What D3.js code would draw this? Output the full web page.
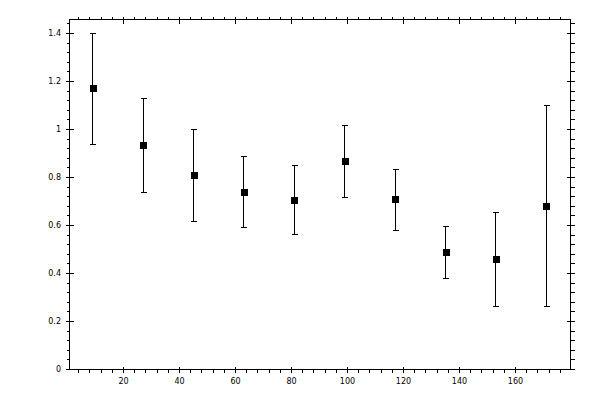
<!DOCTYPE html>
<html><head><meta charset="utf-8">
<script src="https://cdn.jsdelivr.net/npm/d3@7"></script>
<style>
body{margin:0;background:#fff;}
text{font-family:"DejaVu Sans",sans-serif;font-size:8px;fill:#000;}
</style></head>
<body><svg id="c" width="600" height="400"></svg>
<script>
const xValues = [9,27,45,63,81,99,117,135,153,171];
const yValues = [1.171,0.934,0.809,0.738,0.705,0.867,0.709,0.489,0.459,0.680];
const yUpper  = [1.399,1.129,1.000,0.888,0.851,1.016,0.834,0.597,0.655,1.100];
const yLower  = [0.938,0.738,0.617,0.593,0.563,0.717,0.580,0.380,0.264,0.264];
const xMajorTicks = [20,40,60,80,100,120,140,160];
const xTickLabels = ["20","40","60","80","100","120","140","160"];
const yMajorTicks = [0,0.2,0.4,0.6,0.8,1,1.2,1.4];
const yTickLabels = ["0","0.2","0.4","0.6","0.8","1","1.2","1.4"];

const svg = d3.select("#c");
const L=69.5,R=570.5,T=19.5,B=369.5;
const x = d3.scaleLinear().domain([0.71,179.64]).range([L,R]);
const y = d3.scaleLinear().domain([0,1.4583]).range([B,T]);

const xMinor = d3.range(4,180,4).filter(v=>v%20!==0);
const yMinor = d3.range(0,37).map(i=>+(i*0.04).toFixed(2)).filter(v=>Math.abs(v/0.2-Math.round(v/0.2))>1e-6 && v<=1.4583);

const g = svg.append("g").attr("stroke","#000").attr("stroke-width",1).attr("shape-rendering","crispEdges");
g.append("rect").attr("x",L).attr("y",T).attr("width",R-L).attr("height",B-T).attr("fill","none");

// x ticks
xMinor.forEach(v=>{
  const px=Math.round(x(v)-0.5)+0.5;
  g.append("line").attr("x1",px).attr("x2",px).attr("y1",B).attr("y2",B+3);
  g.append("line").attr("x1",px).attr("x2",px).attr("y1",T).attr("y2",T-3);
});
xMajorTicks.forEach(v=>{
  const px=Math.round(x(v)-0.5)+0.5;
  g.append("line").attr("x1",px).attr("x2",px).attr("y1",B-3).attr("y2",B+3);
  g.append("line").attr("x1",px).attr("x2",px).attr("y1",T-3).attr("y2",T+4);
});
// y ticks
yMinor.forEach(v=>{
  const py=Math.round(y(v)-0.5)+0.5;
  g.append("line").attr("x1",L-3).attr("x2",L).attr("y1",py).attr("y2",py);
  g.append("line").attr("x1",R).attr("x2",R+4).attr("y1",py).attr("y2",py);
});
yMajorTicks.forEach(v=>{
  const py=Math.round(y(v)-0.5)+0.5;
  g.append("line").attr("x1",L-4).attr("x2",L+4).attr("y1",py).attr("y2",py);
  g.append("line").attr("x1",R-4).attr("x2",R+4).attr("y1",py).attr("y2",py);
});

// labels
svg.append("g").selectAll("text").data(xMajorTicks).join("text")
  .attr("x",d=>x(d)).attr("y",384).attr("text-anchor","middle")
  .text((d,i)=>xTickLabels[i]);
svg.append("g").selectAll("text").data(yMajorTicks).join("text")
  .attr("x",61).attr("y",d=>y(d)).attr("dy","0.35em").attr("text-anchor","end")
  .text((d,i)=>yTickLabels[i]);

// error bars
const pts = xValues.map((v,i)=>({x:v,y:yValues[i],hi:yUpper[i],lo:yLower[i]}));
const eb = svg.append("g").attr("stroke","#000").attr("stroke-width",1).attr("shape-rendering","crispEdges");
pts.forEach(p=>{
  const px=Math.round(x(p.x)-0.5)+0.5;
  const yh=Math.round(y(p.hi)-0.5)+0.5, yl=Math.round(y(p.lo)-0.5)+0.5;
  eb.append("line").attr("x1",px).attr("x2",px).attr("y1",yh).attr("y2",yl);
  eb.append("line").attr("x1",px-3).attr("x2",px+3).attr("y1",yh).attr("y2",yh);
  eb.append("line").attr("x1",px-3).attr("x2",px+3).attr("y1",yl).attr("y2",yl);
});
svg.append("g").selectAll("rect").data(pts).join("rect")
  .attr("x",d=>Math.round(x(d.x))-3.5).attr("y",d=>Math.round(y(d.y))-3.5)
  .attr("width",7).attr("height",7).attr("fill","#000").attr("shape-rendering","crispEdges");
</script></body></html>
